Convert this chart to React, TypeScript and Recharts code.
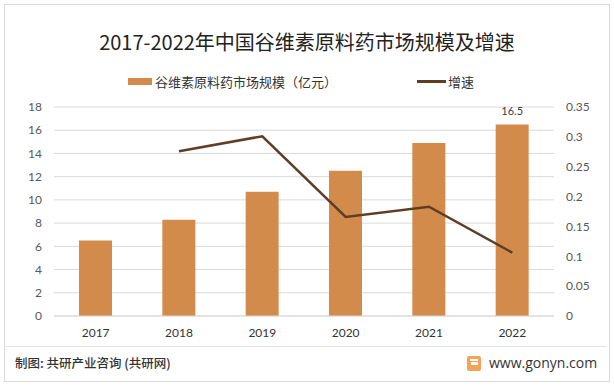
import {
  ComposedChart,
  Bar,
  Line,
  XAxis,
  YAxis,
  CartesianGrid,
  LabelList,
} from "recharts";

const YEARS = ["2017", "2018", "2019", "2020", "2021", "2022"];
const MARKET_SIZE = [6.5, 8.3, 10.7, 12.5, 14.9, 16.5];
const GROWTH = [null, 0.276, 0.301, 0.166, 0.183, 0.106];
const LEFT_TICKS = [0, 2, 4, 6, 8, 10, 12, 14, 16, 18];
const RIGHT_TICKS = [0, 0.05, 0.1, 0.15, 0.2, 0.25, 0.3, 0.35];

const TITLE = "2017-2022年中国谷维素原料药市场规模及增速";
const BAR_NAME = "谷维素原料药市场规模（亿元）";
const LINE_NAME = "增速";
const SOURCE = "制图: 共研产业咨询 (共研网)";
const SITE = "www.gonyn.com";

const BAR_COLOR = "#d38b4c";
const LINE_COLOR = "#5e3e25";
const GRID_COLOR = "#d9d9d9";
const CJK = "'Noto Sans CJK SC', sans-serif";
const NUM = "Lato, 'Noto Sans CJK SC', sans-serif";

const data = YEARS.map((year, i) => ({
  year,
  size: MARKET_SIZE[i],
  growth: GROWTH[i],
}));

// only the last bar carries a value label
function LastLabel(props: any) {
  const { x, y, width, value, index } = props;
  if (index !== data.length - 1) return null;
  return (
    <text
      x={x + width / 2}
      y={y - 9}
      textAnchor="middle"
      fontSize={11}
      fill="#404040"
      fontFamily={NUM}
    >
      {value}
    </text>
  );
}

export default function App() {
  return (
    <div
      style={{
        position: "absolute",
        left: 0,
        top: 0,
        width: 614,
        height: 386,
        background: "#fff",
        fontFamily: CJK,
      }}
    >
      <div
        style={{
          position: "absolute",
          left: 4,
          top: 4,
          width: 604,
          height: 376,
          border: "1px solid #d9d9d9",
        }}
      />
      <div
        style={{
          position: "absolute",
          left: 0,
          top: 28,
          width: 614,
          textAlign: "center",
          fontSize: 20,
          lineHeight: "28px",
          color: "#222",
        }}
      >
        {TITLE}
      </div>

      {/* legend */}
      <div
        style={{
          position: "absolute",
          left: 128,
          top: 72,
          height: 18,
          display: "flex",
          alignItems: "center",
          fontSize: 13,
          color: "#333",
        }}
      >
        <span style={{ width: 24, height: 7, background: BAR_COLOR, marginRight: 3 }} />
        <span>{BAR_NAME}</span>
        <span
          style={{ width: 29, height: 3, background: LINE_COLOR, marginLeft: 80, marginRight: 2 }}
        />
        <span>{LINE_NAME}</span>
      </div>

      <div style={{ position: "absolute", left: 0, top: 0 }}>
        <ComposedChart
          width={614}
          height={386}
          data={data}
          margin={{ top: 107, right: 0, left: 0, bottom: 40 }}
          style={{ fontFamily: NUM }}
        >
          <CartesianGrid yAxisId="left" vertical={false} stroke={GRID_COLOR} />
          <XAxis
            dataKey="year"
            height={30}
            tickLine={false}
            axisLine={{ stroke: GRID_COLOR }}
            tickMargin={6}
            tick={{ fontSize: 12, fill: "#333" }}
          />
          <YAxis
            yAxisId="left"
            width={54}
            domain={[0, 18]}
            ticks={LEFT_TICKS}
            axisLine={false}
            tickLine={false}
            tickMargin={6}
            tick={{ fontSize: 12, fill: "#595959" }}
          />
          <YAxis
            yAxisId="right"
            orientation="right"
            width={60}
            domain={[0, 0.35]}
            ticks={RIGHT_TICKS}
            axisLine={false}
            tickLine={false}
            tickMargin={6}
            tick={{ fontSize: 12, fill: "#595959", textAnchor: "start" }}
          />
          <Bar
            yAxisId="left"
            dataKey="size"
            fill={BAR_COLOR}
            barSize={33}
            isAnimationActive={false}
          >
            <LabelList dataKey="size" content={<LastLabel />} />
          </Bar>
          <Line
            yAxisId="right"
            dataKey="growth"
            stroke={LINE_COLOR}
            strokeWidth={2.5}
            dot={false}
            activeDot={false}
            isAnimationActive={false}
          />
        </ComposedChart>
      </div>

      {/* footer */}
      <div
        style={{
          position: "absolute",
          left: 4,
          top: 346,
          width: 602,
          borderTop: "1px solid #e3e3e3",
        }}
      />
      <div
        style={{
          position: "absolute",
          left: 15,
          top: 354,
          fontSize: 12.5,
          fontWeight: 500,
          color: "#333",
          lineHeight: "18px",
        }}
      >
        {SOURCE}
      </div>
      <svg
        width={14}
        height={15}
        style={{ position: "absolute", left: 467, top: 356 }}
      >
        <rect x={0} y={0} width={14} height={15} rx={2} fill="#f5a25a" />
        <rect x={4} y={6} width={7} height={3} fill="#fff" />
        <rect x={3} y={3} width={8} height={2} fill="#fff" />
      </svg>
      <div
        style={{
          position: "absolute",
          left: 489,
          top: 354,
          fontSize: 14,
          color: "#333",
          lineHeight: "18px",
          fontFamily: "'Open Sans', sans-serif",
        }}
      >
        {SITE}
      </div>
    </div>
  );
}
